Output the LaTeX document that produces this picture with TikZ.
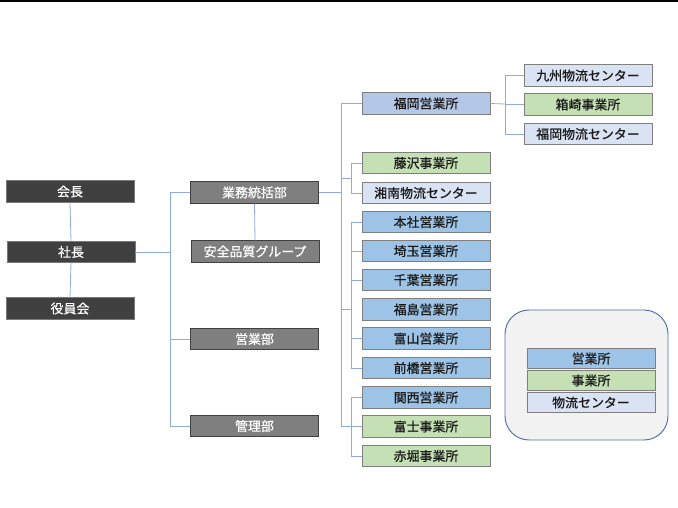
\documentclass[tikz,border=0pt]{standalone}
\usepackage{fontspec}
\newfontfamily\jpfont[FakeBold=0.6]{Noto Sans CJK JP}
\usetikzlibrary{positioning}

\definecolor{execgray}{HTML}{404040}
\definecolor{deptgray}{HTML}{7F7F7F}
\definecolor{officeblue}{HTML}{9DC3E6}
\definecolor{fukuokablue}{HTML}{B4C7E7}
\definecolor{sitegreen}{HTML}{C5E0B4}
\definecolor{logiblue}{HTML}{DAE3F3}
\definecolor{linkblue}{HTML}{8FAADC}
\definecolor{framegray}{HTML}{F2F2F2}
\definecolor{frameblue}{HTML}{4F6FA8}

\tikzset{
  unit/.style={draw=deptgray, line width=0.7pt, minimum width=96pt, minimum height=16pt,
    inner sep=0pt, font=\jpfont\fontsize{9.7}{11}\selectfont, text=black!90},
  exec/.style={unit, fill=execgray, draw=execgray!70!white, text=white},
  dept/.style={unit, fill=deptgray, draw=execgray, text=white},
  office/.style={unit, fill=officeblue},
  site/.style={unit, fill=sitegreen},
  logi/.style={unit, fill=logiblue},
  link/.style={draw=linkblue, line width=0.6pt}
}

\begin{document}
\begin{tikzpicture}[x=0.75pt, y=-0.75pt]
  \useasboundingbox (0,0) rectangle (678,507);
  \draw[line width=1.2pt] (0,1) -- (678,1);

  % top management
  \node[exec] (kaicho) at (70,191.5) {会長};
  \node[exec] (shacho) at (71,252) {社長};
  \node[exec] (yakuin) at (70,308.5) {役員会};

  % departments
  \node[dept] (gyomu) at (254.5,192.5) {業務統括部};
  \node[dept] (anzen) at (255,251.5) {安全品質グループ};
  \node[dept] (eigyo) at (254.5,339) {営業部};
  \node[dept] (kanri) at (254.5,426) {管理部};

  % offices
  \node[office, fill=fukuokablue] (fukuoka) at (426,103.5) {福岡営業所};
  \node[logi] (kyushu) at (588,75.5) {九州物流センター};
  \node[site] (hakozaki) at (588,104.5) {箱崎事業所};
  \node[logi] (fbutsu) at (588,134) {福岡物流センター};
  \node[site] (fujisawa) at (426,163) {藤沢事業所};
  \node[logi] (shonan) at (426,193) {湘南物流センター};
  \node[office] (honsha) at (426,222) {本社営業所};
  \node[office] (saitama) at (426,251) {埼玉営業所};
  \node[office] (chiba) at (426,280) {千葉営業所};
  \node[office] (fukushima) at (426,309.5) {福島営業所};
  \node[office] (toyama) at (426,338.5) {富山営業所};
  \node[office] (maebashi) at (426,368) {前橋営業所};
  \node[office] (kansai) at (426,397.5) {関西営業所};
  \node[site] (fuji) at (426,426.5) {富士事業所};
  \node[site] (akabori) at (426,456) {赤堀事業所};

  % connectors
  \draw[link] (kaicho.south) -- (shacho.north);
  \draw[link] (shacho.south) -- (yakuin.north);
  \coordinate (trunkA) at (170,252);
  \draw[link] (shacho.east) -- (trunkA);
  \draw[link] (trunkA) |- (gyomu.west);
  \draw[link] (trunkA) |- (eigyo.west);
  \draw[link] (trunkA) |- (kanri.west);
  \draw[link] (gyomu.south) -- (anzen.north);

  \coordinate (trunkB) at (341,192.5);
  \draw[link] (gyomu.east) -- (trunkB);
  \draw[link] (trunkB) |- (fukuoka.west);
  \draw[link] (trunkB) |- (fuji.west);
  \coordinate (joinA) at (351,178);
  \draw[link] (trunkB |- joinA) -- (joinA);
  \draw[link] (joinA) |- (fujisawa.west);
  \draw[link] (joinA) |- (shonan.west);
  \coordinate (joinB) at (351,309.5);
  \draw[link] (trunkB |- joinB) -- (joinB);
  \draw[link] (joinB) |- (honsha.west);
  \draw[link] (joinB) |- (saitama.west);
  \draw[link] (joinB) |- (chiba.west);
  \draw[link] (joinB) |- (toyama.west);
  \draw[link] (joinB) |- (maebashi.west);
  \coordinate (joinC) at (351,426.5);
  \draw[link] (joinC) |- (kansai.west);
  \draw[link] (joinC) |- (akabori.west);

  \coordinate (trunkC) at (505,104);
  \draw[link] (fukuoka.east) -- (trunkC);
  \draw[link] (trunkC) |- (kyushu.west);
  \draw[link] (trunkC) |- (hakozaki.west);
  \draw[link] (trunkC) |- (fbutsu.west);

  % legend
  \draw[draw=frameblue, fill=framegray, line width=0.7pt, rounded corners=18pt]
    (505,310) rectangle (668,440);
  \node[office, minimum height=15.5pt] (lgoffice) at (591,358.5) {営業所};
  \node[site, minimum height=15.5pt] (lgsite) at (591,380.5) {事業所};
  \node[logi, minimum height=15.5pt] (lglogi) at (591,402.5) {物流センター};
\end{tikzpicture}
\end{document}
